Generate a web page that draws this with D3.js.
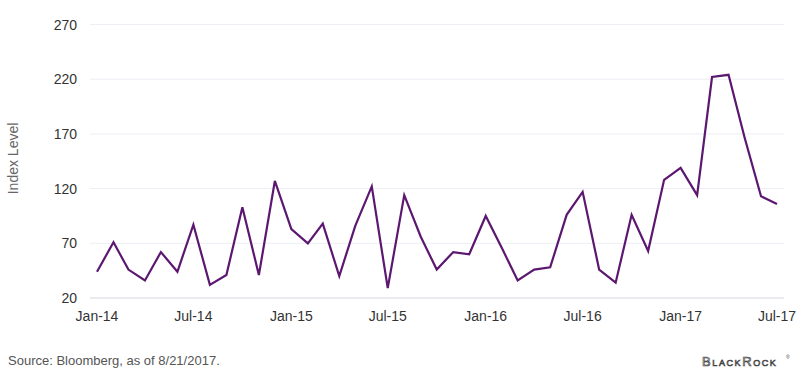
<!DOCTYPE html>
<html><head><meta charset="utf-8">
<script src="https://cdn.jsdelivr.net/npm/d3@7/dist/d3.min.js"></script>
<style>body{margin:0;background:#fff;}svg{display:block;font-family:"Liberation Sans",Arial,sans-serif;}</style>
</head><body><svg id="c" width="800" height="373"></svg>
<script>
const startMonth = "2014-01";
const values = [44,71,46,36,62,44,87,32,41,103,41,127,83,70,88,40,86,122,29,114,76,46,62,60,95,65,36,46,48,96,117,46,34,96,63,128,139,114,222,224,167,113,106];
const yTicks = [20,70,120,170,220,270];
const xTickLabels = ["Jan-14","Jul-14","Jan-15","Jul-15","Jan-16","Jul-16","Jan-17","Jul-17"];
const yLabel = "Index Level";
const source = "Source: Bloomberg, as of 8/21/2017.";

const svg = d3.select("#c");
const parse = d3.timeParse("%Y-%m");
const t0 = parse(startMonth);
const data = values.map((v,i)=>({d:d3.timeMonth.offset(t0,i), v}));

const x = d3.scaleTime().domain([data[0].d, data[data.length-1].d]).range([97,777]);
const y = d3.scaleLinear().domain([20,270]).range([298,24.5]);

// gridlines
svg.append("g").selectAll("line").data(yTicks).join("line")
  .attr("x1",90).attr("x2",784)
  .attr("y1",d=>y(d)).attr("y2",d=>y(d))
  .attr("stroke",d=>d===20?"#d4d7e0":"#eceef4").attr("stroke-width",1);

// y tick labels
svg.append("g").selectAll("text").data(yTicks).join("text")
  .attr("x",77).attr("y",d=>y(d)).attr("dy","0.36em")
  .attr("text-anchor","end").attr("font-size",14).attr("fill","#333")
  .text(d=>d);

// x axis labels
const xTickDates = xTickLabels.map((s,i)=>d3.timeMonth.offset(t0,i*6));
svg.append("g").selectAll("text").data(xTickDates).join("text")
  .attr("x",d=>x(d)).attr("y",321)
  .attr("text-anchor","middle").attr("font-size",14).attr("fill","#333")
  .text((d,i)=>xTickLabels[i]);

// y label
svg.append("text").attr("transform","translate(18,158.5) rotate(-90)")
  .attr("text-anchor","middle").attr("font-size",14).attr("fill","#666").text(yLabel);

// line
svg.append("path").datum(data)
  .attr("fill","none").attr("stroke","#5c1770").attr("stroke-width",2.2)
  .attr("stroke-linejoin","miter")
  .attr("d",d3.line().x(d=>x(d.d)).y(d=>y(d.v)));

// source
svg.append("text").attr("x",8).attr("y",365).attr("font-size",13).attr("fill","#555").text(source);

// logo
svg.append("text").attr("x",702).attr("y",366).attr("font-size",13)
  .attr("font-variant","small-caps").attr("letter-spacing","1.6")
  .attr("fill","#fff").attr("stroke","#444").attr("stroke-width",0.7)
  .text("BlackRock");
svg.append("text").attr("x",786).attr("y",359).attr("font-size",5).attr("fill","#444").text("®");
</script></body></html>
